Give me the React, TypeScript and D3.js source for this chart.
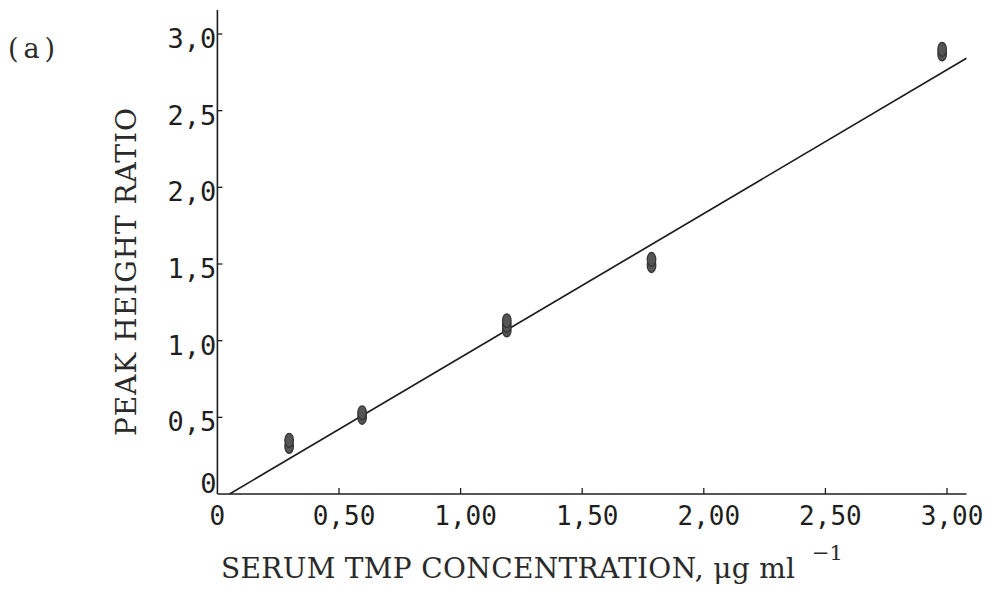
import React from "react";
import * as d3 from "d3";

// ---- data ----
const xTicks = [0, 0.5, 1.0, 1.5, 2.0, 2.5, 3.0];
const xTickLabels = ["0", "0,50", "1,00", "1,50", "2,00", "2,50", "3,00"];
const yTicks = [0, 0.5, 1.0, 1.5, 2.0, 2.5, 3.0];
const yTickLabels = ["0", "0,5", "1,0", "1,5", "2,0", "2,5", "3,0"];

// replicate measurements (concentration, peak height ratio)
const concentrations = [0.295, 0.295, 0.595, 0.595, 1.19, 1.19, 1.19, 1.785, 1.785, 2.98, 2.98];
const ratios = [0.31, 0.35, 0.50, 0.53, 1.07, 1.10, 1.13, 1.49, 1.53, 2.87, 2.90];

// fitted regression line
const fitSlope = 0.938;
const fitIntercept = -0.047;
const fitRange = [0.05, 3.08];

const xTitle = "SERUM TMP CONCENTRATION, μg ml";
const xTitleSup = "−1";
const yTitle = "PEAK HEIGHT RATIO";
const panelLabel = "(a)";

export default function App() {
  const W = 1000, H = 596;
  const x = d3.scaleLinear().domain([0, 3]).range([217.4, 947]);
  const y = d3.scaleLinear().domain([0, 3]).range([494, 34]);
  const xAxisEnd = 3.08;
  const yAxisEnd = 3.157;

  const line = d3
    .line<number>()
    .x((d) => x(d))
    .y((d) => y(fitSlope * d + fitIntercept));

  const ink = "#1e1e1e";
  const mono = "'DejaVu Sans Mono', monospace";
  const slab = "'DejaVu Serif', serif";

  return (
    <svg
      width={W}
      height={H}
      viewBox={`0 0 ${W} ${H}`}
      style={{ position: "fixed", left: 0, top: 0, background: "#fff" }}
    >
      <rect x={0} y={0} width={W} height={H} fill="#fff" />
      {/* axes */}
      <line x1={x(0)} y1={y(0)} x2={x(xAxisEnd)} y2={y(0)} stroke={ink} strokeWidth={1.6} />
      <line x1={x(0)} y1={y(0)} x2={x(0)} y2={y(yAxisEnd)} stroke={ink} strokeWidth={1.6} />
      {/* x ticks */}
      {xTicks.map((t, i) => (
        <g key={"xt" + i}>
          {t > 0 && (
            <line x1={x(t)} x2={x(t)} y1={y(0)} y2={y(0) - 6} stroke={ink} strokeWidth={1.3} />
          )}
          <text
            x={x(t) + (t > 0 ? 5 : 0)}
            y={525}
            textAnchor="middle"
            fontFamily={mono}
            fontSize={26}
            fill={ink}
          >
            {xTickLabels[i]}
          </text>
        </g>
      ))}
      {/* y ticks */}
      {yTicks.map((t, i) => (
        <g key={"yt" + i}>
          {t > 0 && (
            <line x1={x(0)} x2={x(0) + 5} y1={y(t)} y2={y(t)} stroke={ink} strokeWidth={1.3} />
          )}
          <text
            x={x(0) - 1}
            y={t > 0 ? y(t) + 14 : y(t) - 1}
            textAnchor="end"
            fontFamily={mono}
            fontSize={27}
            fill={ink}
          >
            {yTickLabels[i]}
          </text>
        </g>
      ))}
      {/* fit line */}
      <path d={line(fitRange) || ""} fill="none" stroke={ink} strokeWidth={1.7} />
      {/* points */}
      {concentrations.map((c, i) => (
        <ellipse
          key={"p" + i}
          cx={x(c)}
          cy={y(ratios[i])}
          rx={4.3}
          ry={7}
          fill="#555"
          stroke="#333"
          strokeWidth={1.2}
        />
      ))}
      {/* titles */}
      <text
        x={221}
        y={578}
        fontFamily={slab}
        fontSize={28}
        fill="#2a2a2a"
        textLength={574}
        lengthAdjust="spacing"
        xmlSpace="preserve"
      >
        {xTitle}
      </text>
      <text x={812} y={560} fontFamily={slab} fontSize={21} fill="#2a2a2a">
        {xTitleSup}
      </text>
      <text
        transform={`translate(136, 108) rotate(-90)`}
        textAnchor="end"
        fontFamily={slab}
        fontSize={28}
        fill="#2a2a2a"
        textLength={328}
        lengthAdjust="spacing"
      >
        {yTitle}
      </text>
      <text
        x={8}
        y={58}
        fontFamily={slab}
        fontSize={27}
        fill="#2a2a2a"
        textLength={47}
        lengthAdjust="spacing"
      >
        {panelLabel}
      </text>
    </svg>
  );
}
